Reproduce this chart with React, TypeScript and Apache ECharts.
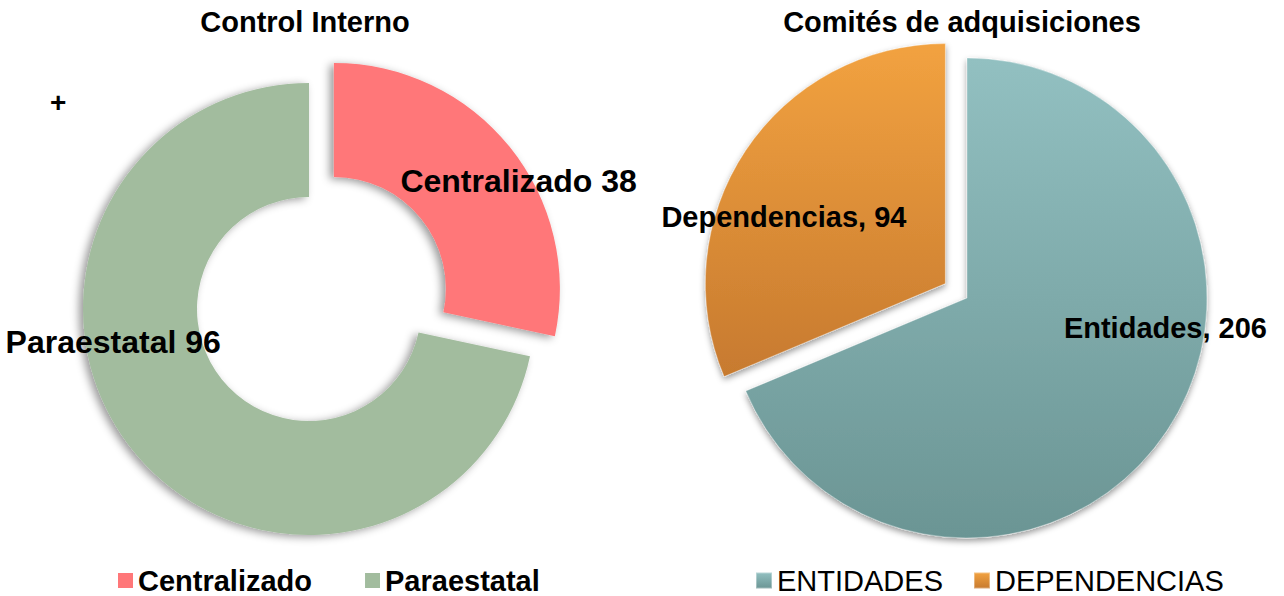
import React, { useEffect, useRef } from "react";
import * as echarts from "echarts";

const controlTitle = "Control Interno";
const controlCategories = ["Centralizado", "Paraestatal"];
const controlValues = [38, 96];

const comitesTitle = "Comités de adquisiciones";
const comitesCategories = ["Entidades", "Dependencias"];
const comitesValues = [206, 94];

const FONT = 'Arial, "Liberation Sans", sans-serif';

export default function App() {
  const ref = useRef<HTMLDivElement>(null);
  useEffect(() => {
    document.body.style.margin = "0";
    const chart = echarts.init(ref.current!, null, { renderer: "svg" });

    const grad = (top: string, bottom: string) =>
      new echarts.graphic.LinearGradient(0, 0, 0, 1, [
        { offset: 0, color: top },
        { offset: 1, color: bottom },
      ]);

    const controlColors = ["#FF7779", "#A2BC9E"];
    const comitesColors = [grad("#92C0C1", "#6B9594"), grad("#F2A240", "#C77A2F")];

    const leftLabelShift = [
      { dx: 51, dy: 0 },
      { dx: -62, dy: -75 },
    ];
    const rightLabelShift = [
      { dx: 96, dy: -38 },
      { dx: -59, dy: 1 },
    ];

    chart.setOption({
      animation: false,
      textStyle: { fontFamily: FONT },
      title: [
        {
          text: controlTitle,
          left: 305,
          top: 7,
          textAlign: "center",
          padding: 0,
          textStyle: { fontSize: 29, fontWeight: "bold", color: "#000", fontFamily: FONT },
        },
        {
          text: comitesTitle,
          left: 962,
          top: 7,
          textAlign: "center",
          padding: 0,
          textStyle: { fontSize: 29, fontWeight: "bold", color: "#000", fontFamily: FONT },
        },
      ],
      legend: [
        {
          data: controlCategories,
          left: 118,
          top: 566,
          padding: 0,
          itemWidth: 15,
          itemHeight: 15,
          itemGap: 53,
          icon: "rect",
          selectedMode: false,
          textStyle: { fontSize: 29, lineHeight: 29, fontWeight: "bold", color: "#000", fontFamily: FONT },
        },
        {
          data: comitesCategories,
          left: 755,
          top: 566,
          padding: 0,
          itemWidth: 16,
          itemHeight: 16,
          itemGap: 30,
          icon: "rect",
          selectedMode: false,
          formatter: (n: string) => n.toUpperCase(),
          textStyle: { fontSize: 29, lineHeight: 29, color: "#000", fontFamily: FONT },
        },
      ],
      graphic: [
        {
          type: "text",
          left: 50,
          top: 88,
          style: { text: "+", fontSize: 28, fontWeight: "bold", fill: "#000", fontFamily: FONT },
        },
      ],
      series: [
        {
          type: "pie",
          center: [309, 309],
          radius: [112, 226],
          startAngle: 90,
          clockwise: true,
          selectedMode: "single",
          selectedOffset: 32,
          emphasis: { disabled: true },
          itemStyle: {
            shadowBlur: 8,
            shadowColor: "rgba(0,0,0,0.4)",
            shadowOffsetX: -4,
            shadowOffsetY: 2,
          },
          label: {
            show: true,
            position: "inside",
            formatter: "{b} {c}",
            fontSize: 32,
            fontWeight: "bold",
            color: "#000",
            fontFamily: FONT,
          },
          labelLine: { show: false },
          labelLayout: (p: any) => leftLabelShift[p.dataIndex],
          data: controlCategories.map((name, i) => ({
            name,
            value: controlValues[i],
            selected: i === 0,
            itemStyle: { color: controlColors[i] },
          })),
        },
        {
          type: "pie",
          center: [967, 298],
          radius: [0, 240],
          startAngle: 90,
          clockwise: true,
          selectedMode: "single",
          selectedOffset: 26,
          emphasis: { disabled: true },
          itemStyle: {
            borderColor: "rgba(255,255,255,0.35)",
            borderWidth: 1,
            shadowBlur: 6,
            shadowColor: "rgba(0,0,0,0.4)",
            shadowOffsetX: 0,
            shadowOffsetY: 3,
          },
          label: {
            show: true,
            position: "inside",
            formatter: "{b}, {c}",
            fontSize: 29,
            fontWeight: "bold",
            color: "#000",
            fontFamily: FONT,
          },
          labelLine: { show: false },
          labelLayout: (p: any) => rightLabelShift[p.dataIndex],
          data: comitesCategories.map((name, i) => ({
            name,
            value: comitesValues[i],
            selected: i === 1,
            itemStyle: { color: comitesColors[i] },
          })),
        },
      ],
    });
    return () => chart.dispose();
  }, []);
  return <div ref={ref} style={{ width: 1284, height: 596 }} />;
}
